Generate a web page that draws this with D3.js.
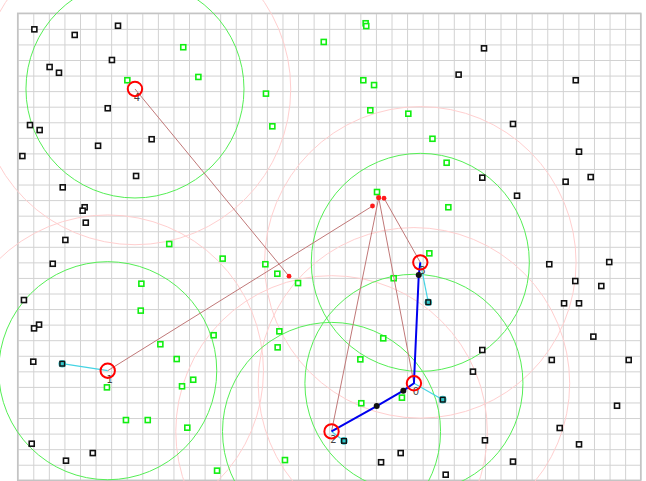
<!DOCTYPE html>
<html><head><meta charset="utf-8">
<script src="https://cdn.jsdelivr.net/npm/d3@7"></script>
<style>html,body{margin:0;padding:0;background:#fff;}svg{display:block;}</style>
</head><body>
<script>
// World is a 40 x 30 grid (units).
const gridCols = 40, gridRows = 30;
const sensorRadius = 7;     // green circles
const commRadius = 10;      // pink circles
const robotRadius = 0.43;   // red circles

const robotIds = ["0","1","2","3","4"];
const robotX = [25.44, 5.78, 20.15, 25.85, 7.53];
const robotY = [23.77, 22.96, 26.86, 16.00, 4.86];

const targetX = [23.18, 22.78, 23.18, 23.52, 17.42];
const targetY = [11.85, 12.38, 11.85, 11.88, 16.89];

const blackX = [1.07,3.66,6.44,6.05,2.05,2.65,5.78,0.79,1.41,5.16,8.60,0.30,7.60,2.89,4.30,4.17,4.37,3.06,2.25,0.40,1.37,1.05,1.00,0.90,3.10,4.82,29.94,28.31,35.83,31.80,36.04,29.83,32.06,35.18,36.79,34.13,37.98,35.80,37.47,35.08,36.04,29.83,29.23,34.29,36.96,39.23,38.48,34.80,36.04,30.00,31.80,27.48,24.59,23.33];
const blackY = [1.03,1.39,0.80,3.00,3.45,3.82,6.10,7.18,7.50,8.51,8.09,9.17,10.45,11.18,12.46,12.68,13.45,14.56,16.09,18.42,20.00,20.24,22.38,27.65,28.74,28.25,2.25,3.94,4.30,7.11,8.89,10.56,11.72,10.82,10.52,16.12,15.98,17.20,17.52,18.63,18.63,21.63,23.02,22.27,20.77,22.27,25.21,26.64,27.69,27.43,28.80,29.64,28.25,28.84];

const greenX = [7.04,10.63,11.60,9.73,7.94,7.90,5.73,9.16,10.21,12.58,11.27,10.55,6.95,8.35,10.89,12.80,22.34,22.38,19.65,22.19,22.88,15.94,16.35,22.64,25.08,26.63,27.54,27.65,13.16,15.90,16.67,18.00,23.07,26.43,24.14,16.80,16.69,23.47,22.00,22.06,24.67,17.16];
const greenY = [4.30,2.18,4.09,14.82,17.37,19.10,24.03,21.26,22.21,20.68,23.54,23.96,26.13,26.13,26.62,29.38,0.64,0.82,1.84,4.30,4.61,5.16,7.26,6.23,6.45,8.06,9.60,12.46,15.76,16.12,16.73,17.33,11.48,15.42,17.02,20.43,21.46,20.88,22.23,25.05,24.69,28.70];

// neighbour particles (cyan) linked to robots
const linkRobot = [1, 3, 0, 2];
const neighborX = [2.86, 26.36, 27.29, 20.95];
const neighborY = [22.51, 18.56, 24.82, 27.47];

// blue path through waypoints
const pathX = [25.85, 25.75, 25.44, 24.76, 23.05, 20.15];
const pathY = [16.00, 16.81, 23.77, 24.24, 25.23, 26.86];
const waypointIdx = [1, 3, 4];

const W = 646, H = 481;
const x = d3.scaleLinear().domain([0, gridCols]).range([17.7, 640.7]);
const y = d3.scaleLinear().domain([0, gridRows]).range([13.3, 480.3]);
const rx = v => x(v) - x(0);

const svg = d3.select("body").append("svg").attr("width", W).attr("height", H);

// grid via axes
const gx = svg.append("g").attr("transform", `translate(0,${y(0)})`)
  .call(d3.axisBottom(x).ticks(gridCols).tickValues(d3.range(0, gridCols + 1)).tickSize(y(gridRows) - y(0)).tickFormat(""));
const gy = svg.append("g").attr("transform", `translate(${x(0)},0)`)
  .call(d3.axisRight(y).tickValues(d3.range(0, gridRows + 1)).tickSize(x(gridCols) - x(0)).tickFormat(""));
[gx, gy].forEach(g => {
  g.select(".domain").remove();
  g.selectAll("line").attr("stroke", "#d2d2d2").attr("stroke-width", 1);
});
svg.append("rect").attr("x", x(0)).attr("y", y(0)).attr("width", x(gridCols) - x(0)).attr("height", y(gridRows) - y(0))
  .attr("fill", "none").attr("stroke", "#c4c4c4").attr("stroke-width", 1.5);

const robots = robotIds.map((id, i) => ({id, x: robotX[i], y: robotY[i], tx: targetX[i], ty: targetY[i]}));

// pink communication circles
svg.append("g").selectAll("circle").data(robots).join("circle")
  .attr("cx", d => x(d.x)).attr("cy", d => y(d.y)).attr("r", rx(commRadius))
  .attr("fill", "none").attr("stroke", "#ffcfcf").attr("stroke-width", 1);

// green sensor circles
svg.append("g").selectAll("circle").data(robots).join("circle")
  .attr("cx", d => x(d.x)).attr("cy", d => y(d.y)).attr("r", rx(sensorRadius))
  .attr("fill", "none").attr("stroke", "#55ee55").attr("stroke-width", 1);

// particles
const blacks = blackX.map((v, i) => ({x: v, y: blackY[i]}));
const greens = greenX.map((v, i) => ({x: v, y: greenY[i]}));
svg.append("g").selectAll("rect").data(blacks).join("rect")
  .attr("x", d => x(d.x) - 2.5).attr("y", d => y(d.y) - 2.5).attr("width", 5).attr("height", 5)
  .attr("fill", "#fff").attr("stroke", "#111").attr("stroke-width", 1.6);
svg.append("g").selectAll("rect").data(greens).join("rect")
  .attr("x", d => x(d.x) - 2.5).attr("y", d => y(d.y) - 2.5).attr("width", 5).attr("height", 5)
  .attr("fill", "#fff").attr("stroke", "#11ee11").attr("stroke-width", 1.6);

// target lines
svg.append("g").selectAll("line").data(robots).join("line")
  .attr("x1", d => x(d.x)).attr("y1", d => y(d.y)).attr("x2", d => x(d.tx)).attr("y2", d => y(d.ty))
  .attr("stroke", "#c07878").attr("stroke-width", 1);

// cyan links
const neighbors = neighborX.map((v, i) => ({x: v, y: neighborY[i], r: robots[linkRobot[i]]}));
svg.append("g").selectAll("line").data(neighbors).join("line")
  .attr("x1", d => x(d.r.x)).attr("y1", d => y(d.r.y)).attr("x2", d => x(d.x)).attr("y2", d => y(d.y))
  .attr("stroke", "#44d4e4").attr("stroke-width", 1.2);
const ng = svg.append("g").selectAll("g").data(neighbors).join("g")
  .attr("transform", d => `translate(${x(d.x)},${y(d.y)})`);
ng.append("circle").attr("r", 3.8).attr("fill", "#33c8cc");
ng.append("rect").attr("x", -2.3).attr("y", -2.3).attr("width", 4.6).attr("height", 4.6)
  .attr("fill", "none").attr("stroke", "#111").attr("stroke-width", 1.4);

// blue path
const path = pathX.map((v, i) => [v, pathY[i]]);
svg.append("path").datum(path)
  .attr("d", d3.line().x(d => x(d[0])).y(d => y(d[1])))
  .attr("fill", "none").attr("stroke", "#0000ee").attr("stroke-width", 2);
svg.append("g").selectAll("circle").data(waypointIdx.map(i => path[i])).join("circle")
  .attr("cx", d => x(d[0])).attr("cy", d => y(d[1])).attr("r", 3).attr("fill", "#111");

// targets
svg.append("g").selectAll("circle").data(robots).join("circle")
  .attr("cx", d => x(d.tx)).attr("cy", d => y(d.ty)).attr("r", 2.4).attr("fill", "#ff1a1a");

// labels
svg.append("g").selectAll("text").data(robots).join("text")
  .attr("x", d => x(d.x) + 2).attr("y", d => y(d.y) + 12)
  .attr("text-anchor", "middle").attr("font-family", "DejaVu Sans, sans-serif").attr("font-size", 10)
  .attr("fill", "#444").text(d => d.id);

// robots
svg.append("g").selectAll("circle").data(robots).join("circle")
  .attr("cx", d => x(d.x)).attr("cy", d => y(d.y)).attr("r", rx(robotRadius) + 0.5)
  .attr("fill", "none").attr("stroke", "#ff0000").attr("stroke-width", 2);
</script>
</body></html>
